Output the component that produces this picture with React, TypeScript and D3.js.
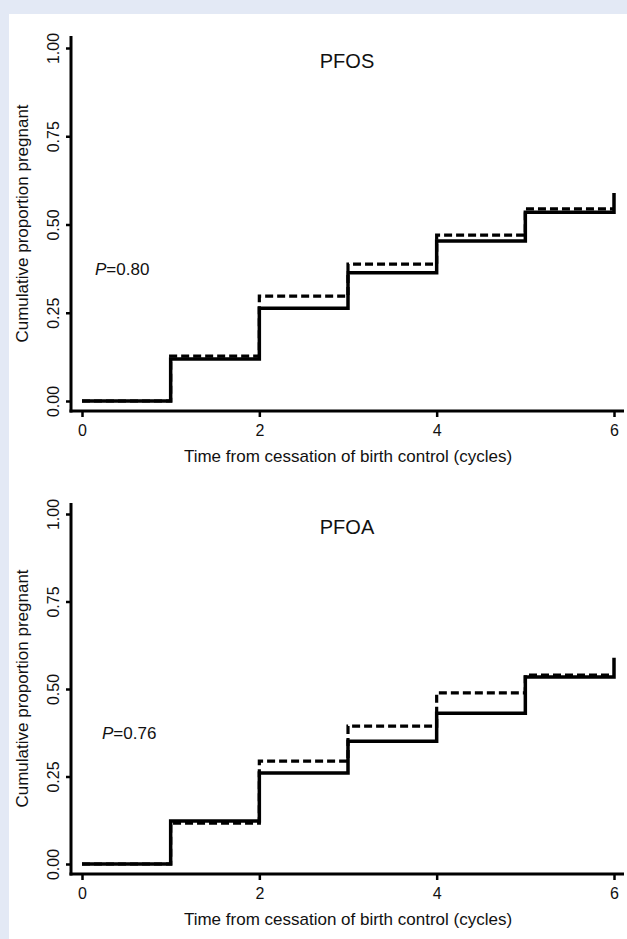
import React, { useEffect, useRef } from 'react'
import * as d3 from 'd3'

// step times (cycles) and cumulative proportions
const cycles = [0, 1, 2, 3, 4, 5, 6]
const pfosSolid = [0, 0.119, 0.263, 0.363, 0.453, 0.535, 0.589]
const pfosDashed = [0, 0.127, 0.297, 0.388, 0.47, 0.544, 0.544]
const pfoaSolid = [0, 0.123, 0.26, 0.351, 0.431, 0.534, 0.589]
const pfoaDashed = [0, 0.117, 0.294, 0.394, 0.489, 0.54, 0.54]

const xTicks = [0, 2, 4, 6]
const yTicks = [0, 0.25, 0.5, 0.75, 1]
const xLabel = 'Time from cessation of birth control (cycles)'
const yLabel = 'Cumulative proportion pregnant'

const panels = [
    { title: 'PFOS', p: '0.80', pX: 95, solid: pfosSolid, dashed: pfosDashed, y0: 401, y1: 48, axisTop: 36, base: 411 },
    { title: 'PFOA', p: '0.76', pX: 102, solid: pfoaSolid, dashed: pfoaDashed, y0: 864, y1: 514, axisTop: 503, base: 874 },
]

const FONT = '"Liberation Sans", Arial, Helvetica, sans-serif'
const W = 627, H = 939

export default function App() {
    const ref = useRef(null)

    useEffect(() => {
        const svg = d3.select(ref.current)
        svg.selectAll('*').remove()

        svg.append('rect').attr('width', W).attr('height', H).attr('fill', '#e3e9f5')
        svg.append('rect').attr('x', 9).attr('y', 14).attr('width', W - 9).attr('height', H - 14).attr('fill', '#ffffff')

        const x = d3.scaleLinear().domain([0, 6]).range([82, 614])
        const axisX = 71

        panels.forEach(pn => {
            const y = d3.scaleLinear().domain([0, 1]).range([pn.y0, pn.y1])
            const g = svg.append('g').style('font-family', FONT)

            // y axis
            const ya = g.append('g')
                .attr('transform', `translate(${axisX},0)`)
                .call(d3.axisLeft(y).tickValues(yTicks).tickFormat(d3.format('.2f')).tickSize(5))
            ya.attr('font-size', null).attr('font-family', null)
            ya.select('.domain').remove()
            ya.selectAll('line').attr('stroke', '#000').attr('stroke-width', 2.5)
            ya.selectAll('text')
                .attr('transform', 'rotate(-90)')
                .attr('x', 0).attr('y', -12).attr('dy', null)
                .attr('text-anchor', 'middle')
                .attr('fill', '#111')
                .style('font-size', '16px').style('font-family', FONT)
            g.append('line')
                .attr('x1', axisX).attr('x2', axisX)
                .attr('y1', pn.axisTop).attr('y2', pn.base + 1.5)
                .attr('stroke', '#000').attr('stroke-width', 3)

            // x axis
            const xa = g.append('g')
                .attr('transform', `translate(0,${pn.base})`)
                .call(d3.axisBottom(x).tickValues(xTicks).tickFormat(d3.format('d')).tickSize(6))
            xa.attr('font-size', null).attr('font-family', null)
            xa.select('.domain').remove()
            xa.selectAll('line').attr('stroke', '#000').attr('stroke-width', 2.5)
            xa.selectAll('text')
                .attr('y', 25).attr('dy', null)
                .attr('fill', '#111')
                .style('font-size', '16px').style('font-family', FONT)
            g.append('line')
                .attr('x1', axisX - 1.5).attr('x2', 624)
                .attr('y1', pn.base).attr('y2', pn.base)
                .attr('stroke', '#000').attr('stroke-width', 3)

            // labels
            g.append('text')
                .attr('x', 348).attr('y', pn.base + 51)
                .attr('text-anchor', 'middle')
                .style('font-size', '17px').attr('fill', '#111')
                .text(xLabel)
            const yMid = (pn.axisTop + pn.base) / 2
            g.append('text')
                .attr('transform', `translate(28,${yMid}) rotate(-90)`)
                .attr('text-anchor', 'middle')
                .style('font-size', '17px').attr('fill', '#111')
                .text(yLabel)
            g.append('text')
                .attr('x', 347).attr('y', pn.y1 + 20)
                .attr('text-anchor', 'middle')
                .style('font-size', '20px').attr('fill', '#111')
                .text(pn.title)
            const pt = g.append('text')
                .attr('x', pn.pX).attr('y', y(0.375) + 6)
                .style('font-size', '17px').attr('fill', '#111')
            pt.append('tspan').style('font-style', 'italic').text('P')
            pt.append('tspan').text('=' + pn.p)

            // step curves
            const line = d3.line()
                .x((d, i) => x(cycles[i]))
                .y(d => y(d))
                .curve(d3.curveStepAfter)

            g.append('path')
                .datum(pn.solid)
                .attr('d', line)
                .attr('fill', 'none')
                .attr('stroke', '#000')
                .attr('stroke-width', 3.5)

            g.append('path')
                .datum(pn.dashed)
                .attr('d', line)
                .attr('fill', 'none')
                .attr('stroke', '#000')
                .attr('stroke-width', 3.2)
                .attr('stroke-dasharray', '8,4')
        })
    }, [])

    return (
        <svg ref={ref} width={W} height={H} style={{ position: 'absolute', left: 0, top: 0 }} />
    )
}
